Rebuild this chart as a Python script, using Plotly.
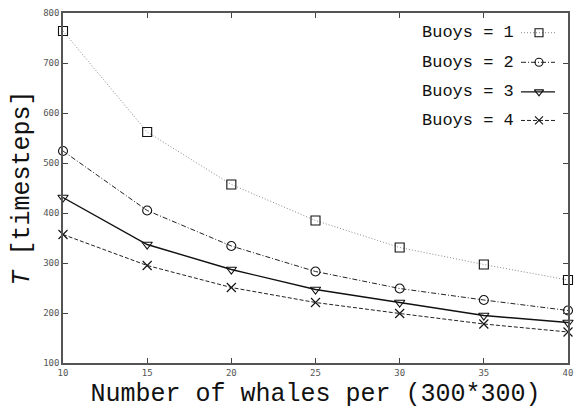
import plotly.graph_objects as go

# Number of whales per (300*300) area
whales = [10, 15, 20, 25, 30, 35, 40]

# Mean time T [timesteps] for each number of buoys
buoys_1 = [764, 562, 457, 385, 331, 297, 266]
buoys_2 = [524, 405, 334, 283, 249, 226, 205]
buoys_3 = [431, 337, 287, 247, 221, 195, 181]
buoys_4 = [357, 295, 251, 221, 199, 178, 162]

series_labels = ["Buoys = 1", "Buoys = 2", "Buoys = 3", "Buoys = 4"]

x_ticks = [10, 15, 20, 25, 30, 35, 40]
y_ticks = [100, 200, 300, 400, 500, 600, 700, 800]

W, H = 583, 411
ML, MR, MT, MB = 63, 15, 8, 48
PW, PH = W - ML - MR, H - MT - MB

styles = [
    dict(line=dict(color="#8a8a8a", width=1, dash="1px,2px"), symbol="square-open"),
    dict(line=dict(color="#222222", width=1, dash="5px,2px,1px,2px"), symbol="circle-open"),
    dict(line=dict(color="#111111", width=1.4), symbol="triangle-down-open"),
    dict(line=dict(color="#222222", width=1, dash="4px,2px"), symbol="x-thin-open"),
]

fig = go.Figure()
for ys, st in zip([buoys_1, buoys_2, buoys_3, buoys_4], styles):
    fig.add_trace(go.Scatter(
        x=whales, y=ys, mode="lines+markers", showlegend=False,
        line=st["line"],
        marker=dict(symbol=st["symbol"], size=9, color="#111111",
                    line=dict(color="#111111", width=1.1)),
        cliponaxis=False,
    ))

# Legend: label on the left, line sample with marker on the right
def px_to_fx(px):
    return (px - ML) / PW

def py_to_fy(py):
    return (MT + PH - py) / PH

legend_rows = [28, 58, 88, 117]
for lbl, st, ry in zip(series_labels, styles, legend_rows):
    fy = py_to_fy(ry)
    fig.add_trace(go.Scatter(
        x=[px_to_fx(521), px_to_fx(555)], y=[fy, fy], mode="lines",
        line=st["line"], xaxis="x2", yaxis="y2", showlegend=False,
        hoverinfo="skip",
    ))
    fig.add_trace(go.Scatter(
        x=[px_to_fx(539)], y=[fy], mode="markers", xaxis="x2", yaxis="y2",
        marker=dict(symbol=st["symbol"], size=8, color="#111111",
                    line=dict(color="#111111", width=1.1)),
        showlegend=False, hoverinfo="skip",
    ))
    fig.add_annotation(
        x=px_to_fx(516), y=fy, xref="x2", yref="y2", text=lbl,
        showarrow=False, xanchor="right", yanchor="middle",
        font=dict(family="Liberation Mono", size=17, color="#111111"),
    )

axis_common = dict(
    showline=True, linecolor="#555555", linewidth=1.5, mirror="ticks",
    ticks="inside", ticklen=5, tickcolor="#444444", tickwidth=1,
    showgrid=False, zeroline=False,
    tickfont=dict(family="DejaVu Sans Mono", size=9, color="#555555"),
)

fig.update_layout(
    width=W, height=H,
    margin=dict(l=ML, r=MR, t=MT, b=MB),
    paper_bgcolor="white", plot_bgcolor="white",
    xaxis=dict(range=[10, 40], tickvals=x_ticks, ticktext=[str(v) for v in x_ticks],
               title=dict(text="Number of whales per (300*300)", standoff=7,
                          font=dict(family="Liberation Mono", size=25, color="#111111")),
               **axis_common),
    yaxis=dict(range=[100, 800], tickvals=y_ticks, ticktext=[str(v) for v in y_ticks],
               title=dict(text="<i>T</i> [timesteps]", standoff=6,
                          font=dict(family="Liberation Mono", size=25, color="#111111")),
               **axis_common),
    xaxis2=dict(range=[0, 1], overlaying="x", visible=False, fixedrange=True),
    yaxis2=dict(range=[0, 1], overlaying="y", visible=False, fixedrange=True),
    showlegend=False,
)

fig.write_html("out.html")
